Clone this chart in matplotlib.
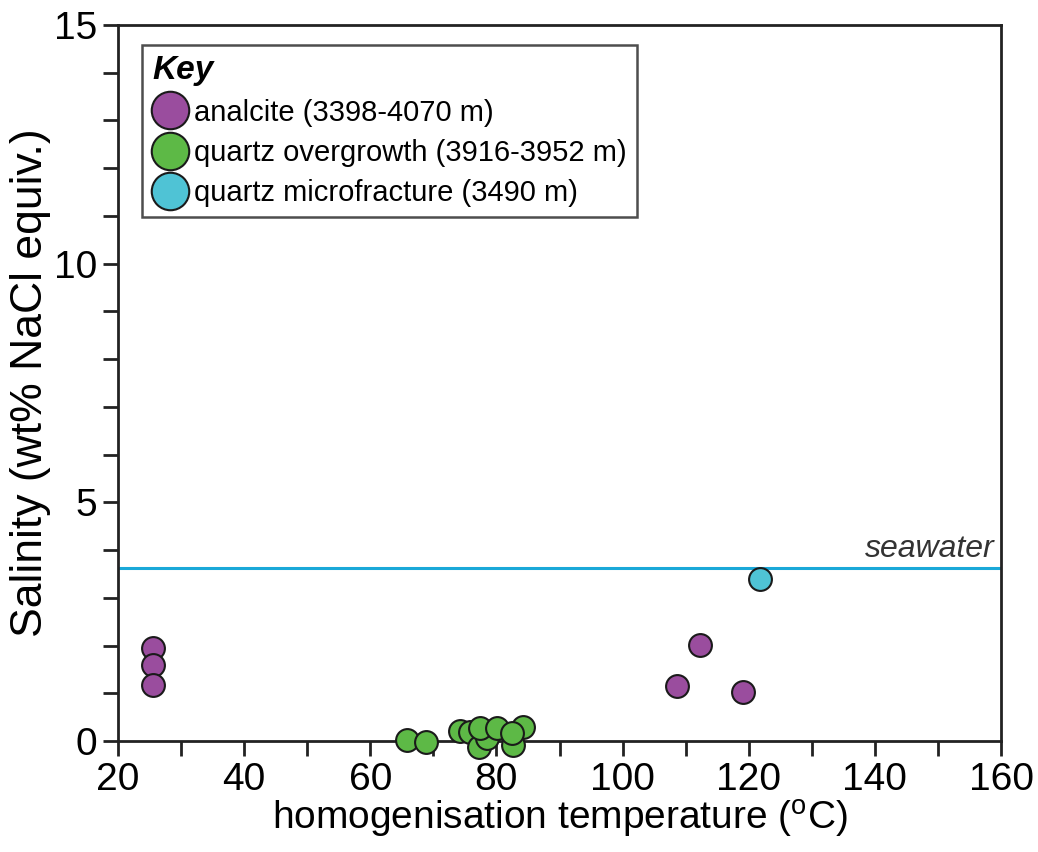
import matplotlib
matplotlib.use("Agg")
import matplotlib.pyplot as plt
from matplotlib.lines import Line2D
from matplotlib.ticker import MultipleLocator

plt.rcParams['font.family'] = ['Liberation Sans', 'DejaVu Sans']

# Data
analcite_T = [25.5, 25.5, 25.5, 108.6, 112.3, 119.1]
analcite_S = [1.95, 1.59, 1.17, 1.15, 2.01, 1.03]

qo_T = [65.8, 68.8, 74.2, 75.8, 77.2, 78.5, 77.4, 80.1, 82.6, 84.2, 82.5]
qo_S = [0.02, -0.02, 0.21, 0.19, -0.13, 0.06, 0.27, 0.27, -0.08, 0.29, 0.17]

mf_T = [121.8]
mf_S = [3.39]

seawater = 3.62

labels = ["analcite (3398-4070 m)", "quartz overgrowth (3916-3952 m)",
          "quartz microfracture (3490 m)"]
colors = ["#9A4D9E", "#5DB946", "#4FC3D5"]

fig = plt.figure(figsize=(10.38, 8.52), dpi=100)
ax = fig.add_axes([118/1038, 1-741/852, 883/1038, 716/852])

ax.axhline(seawater, color="#1AA8D8", lw=2.2, zorder=1)
ax.text(159.0, seawater + 0.08, "seawater", style="italic", fontsize=23,
        ha="right", va="bottom", color="#333333")

ec = "#1a1a1a"
for T, S, c in [(analcite_T, analcite_S, colors[0]), (qo_T, qo_S, colors[1]),
                (mf_T, mf_S, colors[2])]:
    ax.scatter(T, S, s=270, c=c, edgecolors=ec, linewidths=1.5, zorder=3, clip_on=False)

ax.set_xlim(20, 160)
ax.set_ylim(0, 15)
ax.xaxis.set_major_locator(MultipleLocator(20))
ax.xaxis.set_minor_locator(MultipleLocator(10))
ax.yaxis.set_major_locator(MultipleLocator(5))
ax.yaxis.set_minor_locator(MultipleLocator(1))
ax.tick_params(which="both", direction="out", length=11, width=2, color="#222222")
ax.tick_params(which="major", labelsize=28, pad=4)
for sp in ax.spines.values():
    sp.set_linewidth(2)
    sp.set_color("#222222")

ax.set_xlabel("homogenisation temperature ($\\mathregular{^{o}}$C)", fontsize=28, labelpad=0)
ax.set_ylabel("Salinity (wt% NaCl equiv.)", fontsize=32, labelpad=2)

handles = [Line2D([], [], marker="o", ls="none", markersize=27, markerfacecolor=c,
                  markeredgecolor=ec, markeredgewidth=1.5) for c in colors]
leg = ax.legend(handles, labels, loc="upper left", bbox_to_anchor=(0.027, 0.972),
                borderaxespad=0, fontsize=21, title="Key", alignment="left",
                title_fontproperties={"size": 24, "weight": "bold", "style": "italic"},
                frameon=True, fancybox=False, handlelength=1.25, handletextpad=0.2,
                labelspacing=0.42, borderpad=0.35, edgecolor="#222222")
leg.get_frame().set_linewidth(1.8)

fig.savefig("out.png", dpi=100)
